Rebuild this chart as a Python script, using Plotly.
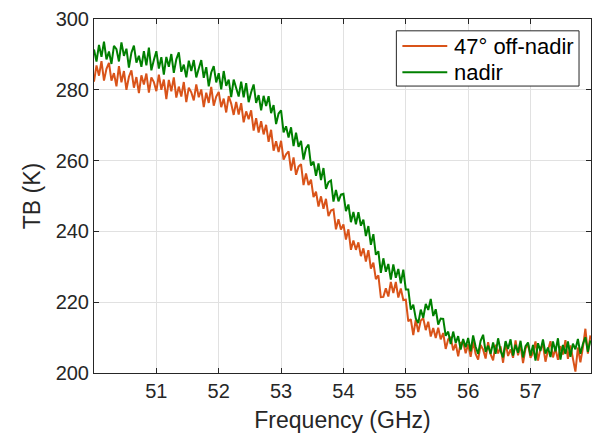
import plotly.graph_objects as go

# Frequency sampling grid (GHz), 0.04 GHz spacing from 50.00 to 57.96
freq = [round(50.0 + 0.04 * i, 2) for i in range(200)]

# 47° off-nadir brightness temperature (K)
tb_offnadir = [
    282.3, 286.9, 284.0, 288.1, 282.6, 285.9, 287.6, 282.6, 284.7, 281.0,
    286.7, 282.1, 285.3, 280.0, 283.7, 285.5, 280.6, 283.6, 279.1, 284.1,
    281.5, 284.6, 279.2, 283.5, 282.2, 279.6, 284.3, 280.0, 282.9, 277.4,
    282.8, 279.6, 283.5, 277.8, 280.9, 278.1, 282.2, 276.5, 280.6, 279.3,
    277.0, 281.5, 277.9, 280.1, 275.1, 279.2, 276.3, 280.8, 275.5, 278.1,
    279.4, 275.1, 277.5, 273.6, 278.2, 276.1, 272.9, 276.6, 273.0, 276.2,
    270.8, 273.9, 271.7, 274.2, 268.5, 272.0, 267.9, 271.1, 267.4, 270.1,
    265.3, 268.7, 262.8, 265.5, 262.4, 265.6, 260.3, 261.8, 262.6, 257.2,
    260.9, 256.0, 258.3, 259.0, 253.1, 256.4, 253.1, 254.6, 249.7, 251.2,
    247.0, 249.9, 246.4, 249.2, 244.3, 245.9, 246.2, 240.6, 243.4, 240.5,
    242.0, 237.7, 240.6, 234.8, 237.4, 234.8, 236.9, 233.0, 235.2, 231.5,
    234.7, 229.5, 231.2, 226.5, 227.6, 221.4, 221.5, 223.9, 221.6, 225.7,
    222.6, 225.7, 221.3, 223.9, 220.6, 220.7, 214.6, 215.2, 210.7, 215.1,
    211.6, 214.8, 215.5, 212.1, 214.5, 210.3, 212.7, 209.9, 212.8, 209.5,
    211.3, 206.8, 209.5, 210.2, 206.4, 208.3, 204.7, 208.5, 208.8, 205.6,
    208.1, 204.6, 208.9, 205.4, 203.8, 207.9, 206.6, 204.1, 208.7, 205.3,
    203.6, 208.0, 205.5, 207.5, 202.9, 208.6, 204.8, 206.7, 204.3, 209.2,
    205.0, 207.9, 202.8, 206.9, 208.2, 204.3, 205.7, 208.9, 203.5, 207.0,
    207.9, 203.2, 206.4, 209.0, 204.4, 206.9, 203.7, 207.6, 205.2, 209.3,
    204.0, 207.8, 204.1, 200.4, 207.2, 203.0, 207.2, 212.5, 205.5, 210.6,
]

# nadir brightness temperature (K)
tb_nadir = [
    291.4, 288.0, 292.7, 289.3, 293.6, 288.6, 290.8, 287.3, 292.4, 291.5,
    288.0, 293.4, 289.6, 291.6, 286.3, 290.5, 292.5, 287.7, 289.6, 286.5,
    290.9, 286.9, 291.9, 285.5, 288.4, 290.9, 286.0, 289.2, 284.3, 289.3,
    286.5, 290.1, 284.8, 288.6, 290.6, 285.1, 287.1, 283.5, 288.2, 285.3,
    288.4, 283.5, 286.0, 288.4, 283.4, 286.4, 281.0, 284.9, 286.7, 282.1,
    284.7, 280.1, 285.3, 281.1, 282.9, 277.9, 282.9, 280.6, 278.1, 282.3,
    277.9, 281.9, 276.5, 279.3, 281.5, 276.3, 278.5, 274.2, 278.3, 275.4,
    278.2, 273.4, 275.7, 270.3, 273.3, 274.2, 268.0, 269.7, 266.5, 269.4,
    264.1, 267.9, 263.9, 265.6, 260.3, 263.5, 264.5, 258.6, 259.7, 255.7,
    259.2, 254.5, 257.9, 252.0, 253.9, 254.4, 248.4, 251.7, 248.5, 250.4,
    250.6, 245.7, 247.6, 242.6, 245.5, 242.0, 245.4, 241.6, 243.3, 238.7,
    241.5, 236.2, 239.2, 233.4, 234.4, 228.3, 232.4, 228.6, 230.8, 226.4,
    230.7, 226.9, 229.4, 225.3, 229.2, 223.6, 223.6, 217.9, 219.3, 215.4,
    214.1, 217.9, 215.6, 219.5, 217.8, 220.9, 216.1, 218.0, 213.7, 215.4,
    215.3, 210.5, 211.7, 208.2, 211.7, 208.5, 210.4, 206.6, 209.6, 207.3,
    209.9, 206.1, 210.6, 207.4, 205.4, 209.1, 210.8, 206.0, 207.7, 205.4,
    208.6, 205.4, 209.8, 206.3, 204.4, 209.0, 206.8, 209.5, 204.9, 208.0,
    205.7, 209.1, 204.4, 207.6, 208.6, 204.9, 207.9, 203.5, 208.4, 206.2,
    209.5, 205.5, 207.2, 204.5, 208.9, 206.1, 209.8, 203.8, 207.9, 205.4,
    208.9, 204.6, 208.3, 206.7, 209.6, 205.4, 208.2, 210.1, 206.0, 209.2,
]

x_ticks = [51, 52, 53, 54, 55, 56, 57]
y_ticks = [200, 220, 240, 260, 280, 300]
series_names = ["47° off-nadir", "nadir"]
series_colors = ["#D95319", "#008000"]

AX = "#262626"
GRID = "#e1e1e1"
FONT = "Liberation Sans, Arial, Helvetica, sans-serif"

fig = go.Figure()
for name, vals, col in zip(series_names, [tb_offnadir, tb_nadir], series_colors):
    fig.add_trace(go.Scatter(x=freq, y=vals, mode="lines", name=name,
                             line=dict(color=col, width=2), showlegend=False))

# MATLAB-style legend box (drawn in paper coordinates)
box = dict(x0=0.6084, x1=0.9759, y0=0.8106, y1=0.9666)
row_y = [0.9234, 0.8496]
shapes = [dict(type="rect", xref="paper", yref="paper", **box,
               line=dict(color=AX, width=1), fillcolor="white", layer="above")]
annotations = []
for name, col, ry in zip(series_names, series_colors, row_y):
    shapes.append(dict(type="line", xref="paper", yref="paper",
                       x0=0.6205, x1=0.7108, y0=ry, y1=ry,
                       line=dict(color=col, width=2), layer="above"))
    annotations.append(dict(xref="paper", yref="paper", x=0.7209, y=ry,
                            xanchor="left", yanchor="middle", showarrow=False,
                            text=name, font=dict(size=22, color="black", family=FONT)))

fig.update_layout(
    width=600, height=436,
    margin=dict(l=94, r=8, t=14, b=63),
    paper_bgcolor="white", plot_bgcolor="white",
    font=dict(family=FONT, size=20, color=AX),
    showlegend=False,
    shapes=shapes,
    annotations=annotations,
)
fig.update_xaxes(
    range=[50.0, 57.97], tickvals=x_ticks, ticktext=[str(v) for v in x_ticks],
    showline=True, linecolor=AX, linewidth=1, mirror="ticks",
    ticks="inside", ticklen=5, tickcolor=AX,
    showgrid=True, gridcolor=GRID, gridwidth=1, zeroline=False,
    title=dict(text="Frequency (GHz)", font=dict(size=23, color=AX), standoff=10),
)
fig.update_yaxes(
    range=[200, 300], tickvals=y_ticks,
    showline=True, linecolor=AX, linewidth=1, mirror="ticks",
    ticks="inside", ticklen=5, tickcolor=AX,
    showgrid=True, gridcolor=GRID, gridwidth=1, zeroline=False,
    title=dict(text="TB (K)", font=dict(size=23, color=AX), standoff=8),
)

fig.write_html("out.html")
